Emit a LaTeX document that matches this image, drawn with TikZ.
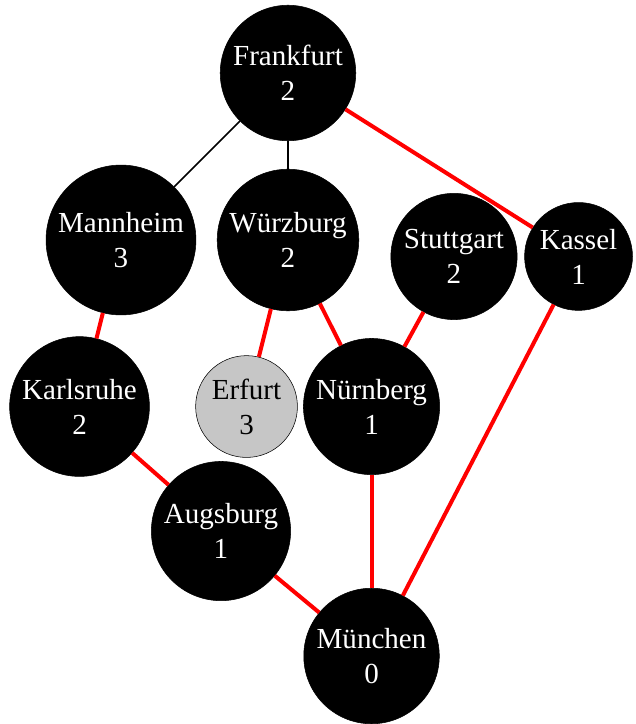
\documentclass[tikz,border=0pt]{standalone}
\usepackage{fontspec}
\setmainfont{Liberation Serif}
\usetikzlibrary{positioning}

\begin{document}
\begin{tikzpicture}[main/.style = {draw, circle, fill=black, text=white, align=center, inner sep=3.5pt, font=\fontsize{21.8}{26.25}\selectfont},
	seen/.style = {main, fill=lightgray!90!white, text=black},
	tree/.style = {red, line width=3pt},
	plain/.style = {black, line width=1.1pt},
	on grid]
	\useasboundingbox (-216pt,54.75pt) rectangle (260.25pt,-488.25pt);
	\node[main] (fra) {Frankfurt\\2};
	\node[main] (man) [below left=125.25pt and 125.25pt of fra] {Mannheim\\3};
	\node[main] (wue) [below=125.25pt of fra] {Würzburg\\2};
	\node[main] (kas) [below right=137.6pt and 217.9pt of fra] {Kassel\\1};
	\node[main] (stu) [left=93.4pt of kas] {Stuttgart\\2};
	\node[main] (kar) [below left=124.9pt and 31.1pt of man] {Karlsruhe\\2};
	\node[seen] (erf) [below left=124.9pt and 31.1pt of wue] {Erfurt\\3};
	\node[main] (nue) [right=93.75pt of erf] {Nürnberg\\1};
	\node[main] (aug) [below right=93.4pt and 106.1pt of kar] {Augsburg\\1};
	\node[main] (mue) [below=187.1pt of nue] {München\\0};
	\draw[plain] (fra) -- (man);
	\draw[plain] (fra) -- (wue);
	\draw[tree] (fra) -- (kas);
	\draw[tree] (man) -- (kar);
	\draw[tree] (wue) -- (erf);
	\draw[tree] (wue) -- (nue);
	\draw[tree] (stu) -- (nue);
	\draw[tree] (kas) -- (mue);
	\draw[tree] (kar) -- (aug);
	\draw[tree] (aug) -- (mue);
	\draw[tree] (nue) -- (mue);
\end{tikzpicture}
\end{document}
